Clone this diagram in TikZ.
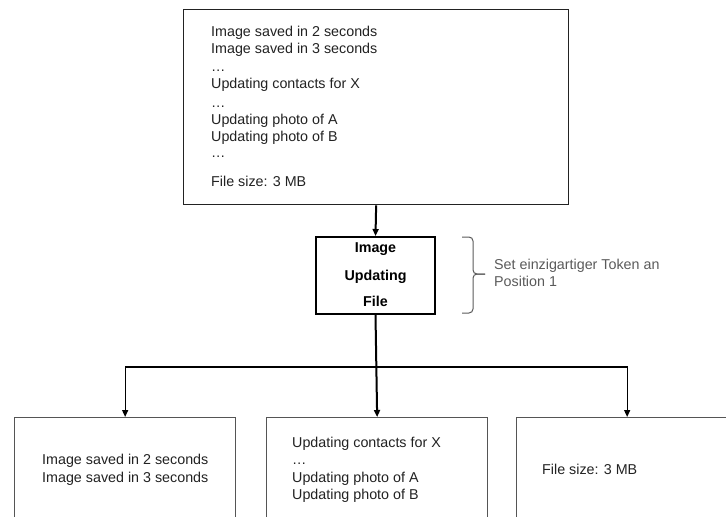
\documentclass[tikz,border=0pt]{standalone}
\usepackage{fontspec}
\setmainfont{Liberation Sans}
\usetikzlibrary{arrows.meta}
\definecolor{ink}{HTML}{222222}
\definecolor{edge}{HTML}{555555}
\definecolor{note}{HTML}{5A5A5A}
\tikzset{
  body/.style={font=\fontsize{14.3}{17}\selectfont, text=ink, inner sep=0pt, anchor=base west},
  hubtext/.style={font=\fontsize{14.3}{16}\selectfont\bfseries, text=black, inner sep=0pt, anchor=base},
  notetext/.style={body, text=note},
  panel/.style={draw=edge, line width=1.3pt, fill=white, anchor=north west, inner sep=0pt},
  hub/.style={draw=black, line width=2pt, inner sep=0pt, minimum width=119pt, minimum height=77pt},
  link/.style={draw=black, line width=1.3pt, -{Triangle[length=7pt,width=6pt]}},
  trunk/.style={link, line width=2pt},
  bracket/.style={draw=note, line width=1pt, rounded corners=4pt},
}
\begin{document}
\begin{tikzpicture}[x=1pt,y=-1pt]
\useasboundingbox (0,0) rectangle (726,517);
\clip (0,0) rectangle (726,517);

% source log
\node[panel, draw=ink, minimum width=385pt, minimum height=195pt] (log) at (183,9) {};
\foreach \y/\t [count=\i] in {36/Image saved in 2 seconds, 53/Image saved in 3 seconds, 71/…,
    88/Updating contacts for X, 107/…, 124/Updating photo of A, 141/Updating photo of B,
    157/…, 186/File size: 3 MB}
  \node[body] (log\i) at (211,\y) {\t};

% central file
\node[hub] (hub) at (375.5,275.5) {};
\node[hubtext] (hub1) at (375.5,252) {Image};
\node[hubtext] (hub2) at (375.5,280) {Updating};
\node[hubtext] (hub3) at (375.5,306) {File};

% annotation with its bracket
\coordinate (tip) at (485,274);
\draw[bracket] (462,237) -- (473,237) -- (473,274) -- (tip);
\draw[bracket] (462,313) -- (473,313) -- (473,274) -- (tip);
\node[notetext] (note1) at (494,269) {Set einzigartiger Token an};
\node[notetext] (note2) at (494,286) {Position 1};

% split outputs
\node[panel, minimum width=221pt, minimum height=130pt] (left) at (14,417) {};
\node[panel, minimum width=221pt, minimum height=130pt] (mid) at (266,417) {};
\node[panel, minimum width=221pt, minimum height=130pt] (right) at (516,417) {};

\node[body] (l1) at (42,464) {Image saved in 2 seconds};
\node[body] (l2) at (42,482) {Image saved in 3 seconds};

\node[body] (m1) at (292,447) {Updating contacts for X};
\node[body] (m2) at (292,464) {…};
\node[body] (m3) at (292,482) {Updating photo of A};
\node[body] (m4) at (292,499) {Updating photo of B};

\node[body] (r1) at (542,474) {File size: 3 MB};

% connectors
\coordinate (split) at (375.5,367);
\draw[trunk] (log.south) -- (hub.north);
\draw[trunk] (hub.south) -- (mid.north);
\draw[link] (split) -| (left.north);
\draw[link] (split) -| (right.north);
\end{tikzpicture}
\end{document}
